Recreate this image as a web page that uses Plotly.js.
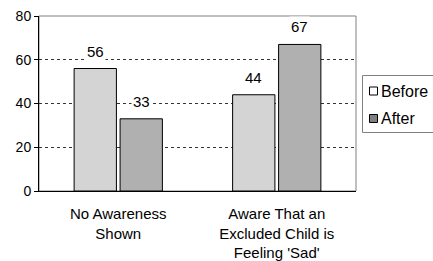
<!DOCTYPE html>
<html><head><meta charset="utf-8">
<script src="https://cdn.plot.ly/plotly-3.0.1.min.js"></script>
<style>body{margin:0;background:#fff}#c{width:433px;height:261px}</style>
</head><body><div id="c"></div>
<script>
const categories = ["No Awareness<br>Shown", "Aware That an<br>Excluded Child is<br>Feeling 'Sad'"];
const seriesNames = ["Before", "After"];
const beforeValues = [56, 44];
const afterValues = [33, 67];
const yTicks = [0, 20, 40, 60, 80];

const barColors = ["#d4d4d4", "#b0b0b0"];
const legendColors = ["#ffffff", "#808080"];
const allValues = [beforeValues, afterValues];

const W = 433, H = 261;
const M = {l: 39, r: 77, t: 16, b: 70};
const PW = W - M.l - M.r, PH = H - M.t - M.b;
const px = x => (x - M.l) / PW;
const py = y => (H - M.b - y) / PH;

const traces = allValues.map((vals, i) => ({
  type: "bar", x: categories, y: vals, name: seriesNames[i],
  marker: {color: barColors[i], line: {color: "#000", width: 1}},
  showlegend: false, hoverinfo: "none"
}));

const annotations = [];
allValues.forEach((vals, i) => {
  vals.forEach((v, j) => {
    annotations.push({
      x: categories[j], y: v, xref: "x", yref: "y", text: String(v),
      showarrow: false, yanchor: "bottom", yshift: 7,
      xshift: (i === 0 ? -1 : 1) * 23,
      bgcolor: "#fff", font: {size: 15, color: "#000"}
    });
  });
});

const shapes = [
  {type: "rect", xref: "paper", yref: "paper", x0: 0, x1: 1, y0: 0, y1: 1,
   line: {color: "#808080", width: 1}, layer: "below"},
  {type: "rect", xref: "paper", yref: "paper", x0: px(362.5), x1: px(445), y0: py(132.5), y1: py(75.5),
   line: {color: "#808080", width: 1}, fillcolor: "#fff"}
];
seriesNames.forEach((name, i) => {
  const cy = 91 + i * 27.5;
  shapes.push({type: "rect", xref: "paper", yref: "paper",
    x0: px(369.5), x1: px(377.5), y0: py(cy + 4), y1: py(cy - 4),
    line: {color: "#000", width: 1}, fillcolor: legendColors[i]});
  annotations.push({xref: "paper", yref: "paper", x: px(379), y: py(cy),
    xanchor: "left", yanchor: "middle", text: name, showarrow: false,
    font: {size: 16, color: "#000"}});
});

const layout = {
  width: W, height: H,
  margin: Object.assign({autoexpand: false}, M),
  paper_bgcolor: "#fff", plot_bgcolor: "#fff",
  font: {family: "Liberation Sans, Arial, sans-serif", size: 14, color: "#000"},
  barmode: "group", bargap: 0.42, bargroupgap: 0.08,
  showlegend: false,
  xaxis: {showline: true, linecolor: "#000", linewidth: 1, ticks: "",
    tickfont: {size: 15}, showgrid: false, ticklabelstandoff: 9},
  yaxis: {range: [0, 80], tickvals: yTicks, showline: true, linecolor: "#000",
    linewidth: 1, ticks: "outside", ticklen: 4, tickcolor: "#000",
    showgrid: true, gridcolor: "#333", griddash: "dot", gridwidth: 1,
    zeroline: false, tickfont: {size: 14}},
  shapes: shapes,
  annotations: annotations
};
Plotly.newPlot("c", traces, layout, {staticPlot: true});
</script></body></html>
